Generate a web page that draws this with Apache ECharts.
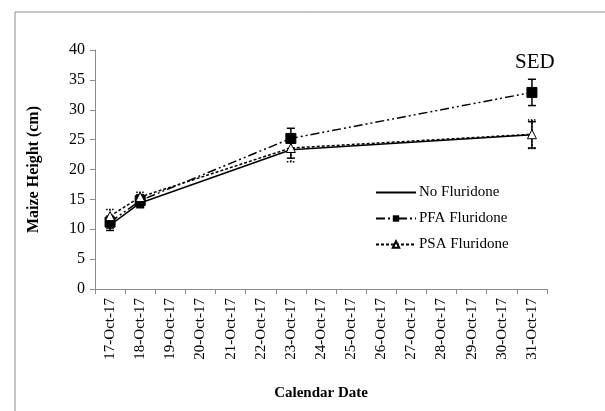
<!DOCTYPE html>
<html>
<head>
<meta charset="utf-8">
<script src="https://cdn.jsdelivr.net/npm/echarts@6/dist/echarts.min.js"></script>
<style>
  html, body { margin: 0; padding: 0; background: #fff; }
  #main { width: 605px; height: 411px; }
</style>
</head>
<body>
<div id="main"></div>
<script>
var dates = ["17-Oct-17", "18-Oct-17", "19-Oct-17", "20-Oct-17", "21-Oct-17",
  "22-Oct-17", "23-Oct-17", "24-Oct-17", "25-Oct-17", "26-Oct-17",
  "27-Oct-17", "28-Oct-17", "29-Oct-17", "30-Oct-17", "31-Oct-17"];

// measured dates only (others are null)
var noFluridone = [10.7, 14.4, null, null, null, null, 23.3, null, null, null, null, null, null, null, 25.8];
var pfaFluridone = [11.2, 14.8, null, null, null, null, 25.2, null, null, null, null, null, null, null, 32.9];
var psaFluridone = [12.2, 15.4, null, null, null, null, 23.6, null, null, null, null, null, null, null, 25.9];

var noErr = [0.9, 0.8, null, null, null, null, 1.4, null, null, null, null, null, null, null, 2.2];
var pfaErr = [1.0, 1.0, null, null, null, null, 1.7, null, null, null, null, null, null, null, 2.2];
var psaErr = [1.1, 0.8, null, null, null, null, 2.3, null, null, null, null, null, null, null, 2.4];

var chartDom = document.getElementById("main");
var myChart = echarts.init(chartDom);

function errData(vals, errs) {
  var out = [];
  vals.forEach(function (v, i) {
    if (v != null) out.push([i, v - errs[i], v + errs[i]]);
  });
  return out;
}

function errSeries(vals, errs, dashed) {
  return {
    type: "custom",
    silent: true,
    z: 1,
    data: errData(vals, errs),
    renderItem: function (params, api) {
      var x = api.coord([api.value(0), api.value(1)])[0];
      var lo = api.coord([api.value(0), api.value(1)])[1];
      var hi = api.coord([api.value(0), api.value(2)])[1];
      var style = { stroke: "#000", lineWidth: 1.5, lineDash: dashed ? [1.5, 1.5] : null };
      return {
        type: "group",
        children: [
          { type: "line", shape: { x1: x, y1: lo, x2: x, y2: hi }, style: style },
          { type: "line", shape: { x1: x - 4, y1: lo, x2: x + 4, y2: lo }, style: style },
          { type: "line", shape: { x1: x - 4, y1: hi, x2: x + 4, y2: hi }, style: style }
        ]
      };
    }
  };
}

var serif = "Liberation Serif";

var option = {
  animation: false,
  backgroundColor: "#fff",
  textStyle: { fontFamily: serif },
  graphic: [
    {
      type: "rect",
      shape: { x: 15, y: 12, width: 620, height: 420 },
      style: { fill: null, stroke: "#8c8c8c", lineWidth: 1 },
      silent: true
    },
    {
      type: "text",
      left: 515,
      top: 52,
      style: { text: "SED", fontFamily: serif, fontSize: 21, fill: "#000" }
    }
  ],
  legend: {
    data: [
      { name: "No Fluridone", itemStyle: { opacity: 0 } },
      "PFA Fluridone",
      "PSA Fluridone"
    ],
    orient: "vertical",
    left: 370,
    top: 180,
    itemWidth: 40,
    itemHeight: 8,
    itemGap: 11,
    textStyle: { fontFamily: serif, fontSize: 15, color: "#000", padding: [0, 0, 0, -2] }
  },
  grid: { left: 95, right: 58, top: 50, bottom: 122 },
  xAxis: {
    type: "category",
    data: dates,
    boundaryGap: true,
    name: "Calendar Date",
    nameLocation: "middle",
    nameGap: 97,
    nameTextStyle: { fontFamily: serif, fontSize: 15, fontWeight: "bold", color: "#000" },
    axisLine: { lineStyle: { color: "#8c8c8c" } },
    axisTick: { show: true, alignWithLabel: false, length: 5, lineStyle: { color: "#8c8c8c" } },
    axisLabel: { rotate: 90, interval: 0, fontFamily: serif, fontSize: 15, color: "#000", margin: 9 },
    splitLine: { show: false }
  },
  yAxis: {
    type: "value",
    min: 0,
    max: 40,
    interval: 5,
    name: "Maize Height (cm)",
    nameLocation: "middle",
    nameGap: 53,
    nameTextStyle: { fontFamily: serif, fontSize: 16, fontWeight: "bold", color: "#000" },
    axisLine: { show: true, lineStyle: { color: "#8c8c8c" } },
    axisTick: { show: true, length: 5, lineStyle: { color: "#8c8c8c" } },
    axisLabel: { fontFamily: serif, fontSize: 16, color: "#000", margin: 10 },
    splitLine: { show: false }
  },
  series: [
    {
      name: "No Fluridone",
      type: "line",
      data: noFluridone,
      connectNulls: true,
      symbol: "none",
      color: "#000",
      lineStyle: { color: "#000", width: 1.5, type: "solid" },
      z: 3
    },
    {
      name: "PFA Fluridone",
      type: "line",
      data: pfaFluridone,
      connectNulls: true,
      symbol: "rect",
      symbolSize: 10,
      color: "#000",
      itemStyle: { color: "#000", borderColor: "#000" },
      lineStyle: { color: "#000", width: 1.5, type: [9, 3, 2, 3, 2, 3] },
      z: 4
    },
    {
      name: "PSA Fluridone",
      type: "line",
      data: psaFluridone,
      connectNulls: true,
      symbol: "triangle",
      symbolSize: 9,
      color: "#000",
      itemStyle: { color: "#fff", borderColor: "#000", borderWidth: 1 },
      lineStyle: { color: "#000", width: 1.5, type: [3, 2] },
      z: 5
    },
    errSeries(noFluridone, noErr, false),
    errSeries(pfaFluridone, pfaErr, false),
    errSeries(psaFluridone, psaErr, true)
  ]
};

option && myChart.setOption(option);
</script>
</body>
</html>
